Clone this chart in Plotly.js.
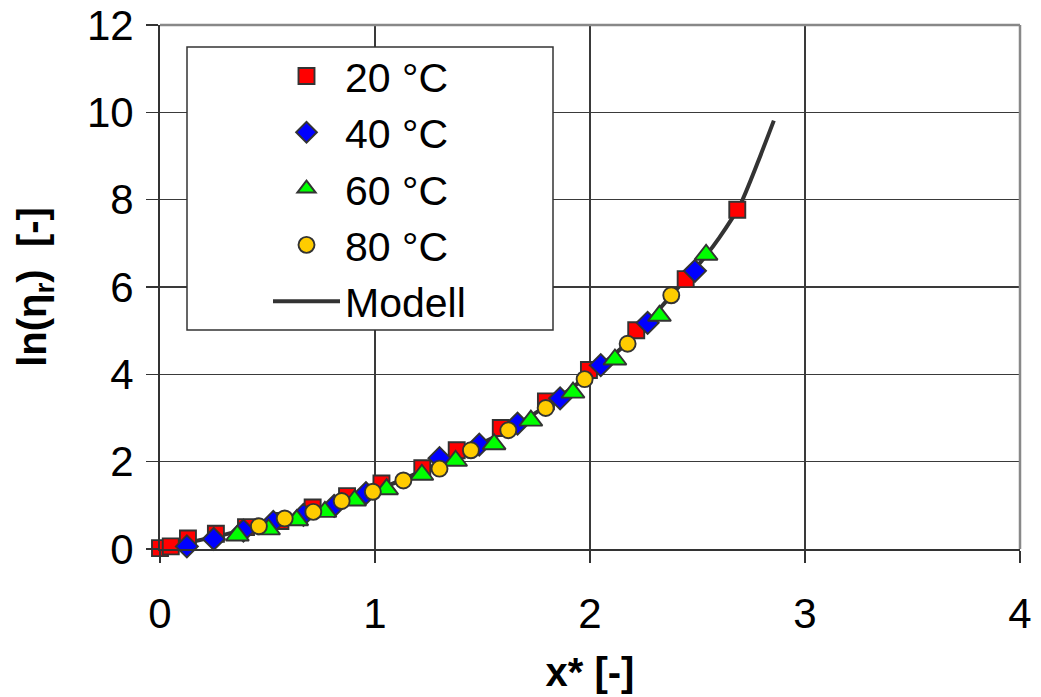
<!DOCTYPE html>
<html>
<head>
<meta charset="utf-8">
<script src="https://cdn.plot.ly/plotly-3.0.1.min.js"></script>
<style>
  html, body { margin: 0; padding: 0; background: #ffffff; }
  #chart { width: 1041px; height: 697px; }
</style>
</head>
<body>
<div id="chart"></div>
<script>
// Measured relative viscosity, ln(eta_r) versus reduced concentration x*
const x20 = [0.0, 0.05, 0.13, 0.26, 0.40, 0.56, 0.71, 0.87, 1.03, 1.22, 1.38, 1.585, 1.795, 1.995, 2.215, 2.445, 2.685];
const y20 = [0.02, 0.06, 0.24, 0.35, 0.50, 0.64, 0.95, 1.21, 1.50, 1.85, 2.26, 2.77, 3.38, 4.10, 5.01, 6.18, 7.77];

const x40 = [0.125, 0.25, 0.388, 0.527, 0.667, 0.81, 0.958, 1.30, 1.485, 1.663, 1.861, 2.05, 2.268, 2.488];
const y40 = [0.06, 0.23, 0.42, 0.62, 0.78, 0.99, 1.28, 2.08, 2.39, 2.87, 3.45, 4.21, 5.18, 6.37];

const x60 = [0.36, 0.505, 0.636, 0.767, 0.905, 1.054, 1.218, 1.375, 1.554, 1.725, 1.921, 2.116, 2.323, 2.54];
const y60 = [0.31, 0.45, 0.66, 0.85, 1.11, 1.37, 1.70, 2.02, 2.40, 2.94, 3.58, 4.34, 5.34, 6.74];

const x80 = [0.46, 0.58, 0.713, 0.845, 0.99, 1.132, 1.30, 1.446, 1.62, 1.794, 1.975, 2.175, 2.378];
const y80 = [0.52, 0.70, 0.85, 1.10, 1.31, 1.57, 1.84, 2.26, 2.72, 3.23, 3.89, 4.70, 5.81];

// Model curve
const xModel = [0, 0.1, 0.2, 0.3, 0.4, 0.5, 0.6, 0.7, 0.8, 0.9, 1.0, 1.1, 1.2, 1.3, 1.4, 1.5, 1.6, 1.7, 1.8, 1.9, 2.0, 2.1, 2.2, 2.3, 2.4, 2.5, 2.6, 2.7, 2.78, 2.855];
const yModel = [0, 0.11, 0.22, 0.33, 0.45, 0.57, 0.70, 0.84, 0.98, 1.15, 1.34, 1.53, 1.75, 1.97, 2.19, 2.43, 2.68, 2.97, 3.29, 3.63, 4.01, 4.40, 4.85, 5.37, 5.93, 6.48, 7.12, 7.90, 8.85, 9.81];

const seriesNames = ['20 °C', '40 °C', '60 °C', '80 °C'];
const modelName = 'Modell';

const FONT = '"Liberation Sans", Arial, "DejaVu Sans", sans-serif';
const EDGE = '#333333';

function markerTrace(name, xs, ys, symbol, color, size) {
  return {
    type: 'scatter', mode: 'markers', name: name, x: xs, y: ys,
    cliponaxis: false,
    marker: { symbol: symbol, color: color, size: size, line: { color: EDGE, width: 1.9 } }
  };
}

const traces = [
  { type: 'scatter', mode: 'lines', name: modelName, x: xModel, y: yModel,
    cliponaxis: false, legendrank: 2000,
    line: { color: '#333333', width: 4, shape: 'spline', smoothing: 0.6 } },
  markerTrace(seriesNames[0], x20, y20, 'square', '#ff0000', 16),
  markerTrace(seriesNames[1], x40, y40, 'diamond', '#0000ff', 17),
  markerTrace(seriesNames[2], x60, y60, 'triangle-up', '#00ff00', 20),
  markerTrace(seriesNames[3], x80, y80, 'circle', '#ffcc00', 16)
];

const layout = {
  width: 1041, height: 697,
  margin: { l: 160, r: 21, t: 25, b: 148, autoexpand: false },
  paper_bgcolor: '#ffffff', plot_bgcolor: '#ffffff',
  font: { family: FONT, size: 42, color: '#000000' },
  showlegend: true,
  legend: {
    x: (268 - 160) / 860, y: 0.966, xanchor: 'left', yanchor: 'top',
    bgcolor: 'rgba(0,0,0,0)', borderwidth: 0,
    font: { family: FONT, size: 41, color: '#000000' },
    itemwidth: 67, tracegroupgap: 0
  },
  xaxis: {
    range: [0, 4], tickvals: [0, 1, 2, 3, 4], ticktext: ['0', '1', '2', '3', '4'],
    showgrid: true, gridcolor: '#3a3a3a', gridwidth: 1.2,
    showline: true, linecolor: '#333333', linewidth: 2,
    zeroline: false, ticks: 'outside', ticklen: 12, tickwidth: 1.5, tickcolor: '#333333',
    ticklabelstandoff: 15,
    tickfont: { family: FONT, size: 42 },
    title: { text: '<b>x* [-]</b>', font: { family: FONT, size: 40 }, standoff: 22 },
    fixedrange: true
  },
  yaxis: {
    range: [0, 12], tickvals: [0, 2, 4, 6, 8, 10, 12], ticktext: ['0', '2', '4', '6', '8', '10', '12'],
    showgrid: true, gridcolor: '#3a3a3a', gridwidth: 1.2,
    showline: true, linecolor: '#333333', linewidth: 2,
    zeroline: false, ticks: 'outside', ticklen: 12, tickwidth: 1.5, tickcolor: '#333333',
    ticklabelstandoff: 4,
    tickfont: { family: FONT, size: 42 },
    title: { text: '<b>ln(η<sub>r</sub>)\u00a0\u00a0[-]</b>', font: { family: FONT, size: 40 }, standoff: 28 },
    fixedrange: true
  },
  shapes: [
    // frame edges at top and right
    { type: 'line', xref: 'paper', yref: 'paper', x0: 0, x1: 1, y0: 1, y1: 1,
      line: { color: '#888888', width: 2.5 }, layer: 'above' },
    { type: 'line', xref: 'paper', yref: 'paper', x0: 1, x1: 1, y0: 0, y1: 1,
      line: { color: '#888888', width: 2.5 }, layer: 'above' },
    // legend box
    { type: 'rect', xref: 'paper', yref: 'paper',
      x0: (187 - 160) / 860, x1: (553 - 160) / 860, y0: (549 - 330) / 524, y1: (549 - 47) / 524,
      fillcolor: '#ffffff', line: { color: '#333333', width: 1.5 }, layer: 'above' }
  ]
};

Plotly.newPlot('chart', traces, layout, { displayModeBar: false, staticPlot: true });
</script>
</body>
</html>
